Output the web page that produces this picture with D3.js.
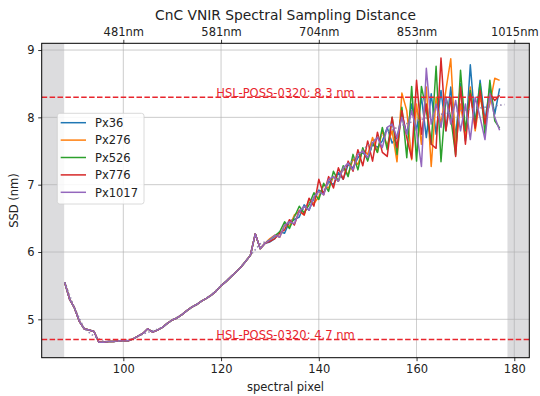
<!DOCTYPE html>
<html><head><meta charset="utf-8">
<script src="https://cdn.jsdelivr.net/npm/d3@7"></script>
<style>
body{margin:0;background:#fff;}
text{font-family:"DejaVu Sans",sans-serif;}
</style></head>
<body><svg id="chart" width="540" height="396"></svg>
<script>
// ---- data ----
const title = "CnC VNIR Spectral Sampling Distance";
const xLabel = "spectral pixel";
const yLabel = "SSD (nm)";
const xTicks = [100, 120, 140, 160, 180];
const topTickLabels = ["481nm", "581nm", "704nm", "853nm", "1015nm"];
const yTicks = [5, 6, 7, 8, 9];
const seriesNames = ["Px36", "Px276", "Px526", "Px776", "Px1017"];
const seriesColors = ["#1f77b4", "#ff7f0e", "#2ca02c", "#d62728", "#9467bd"];
const refLevels = [8.3, 4.7];
const refLabels = ["HSL-POSS-0320: 8.3 nm", "HSL-POSS-0320: 4.7 nm"];
const excludedRanges = [[83.3, 87.9], [178.6, 183.07]];

// spectral pixels 88..177
const pixels = d3.range(88, 178);
// common smooth part, pixels 88..129
const commonPart = [5.55, 5.30, 5.17, 4.97, 4.86, 4.84, 4.82, 4.66, 4.66, 4.67,
  4.67, 4.68, 4.68, 4.68, 4.71, 4.75, 4.79, 4.86, 4.81, 4.84,
  4.88, 4.94, 4.99, 5.02, 5.07, 5.13, 5.18, 5.22, 5.27, 5.31,
  5.36, 5.42, 5.50, 5.56, 5.63, 5.70, 5.77, 5.86, 5.95, 6.27,
  6.05, 6.13];
// per-series noisy part, pixels 130..177
const px36 = [6.15, 6.20, 6.30, 6.28, 6.45, 6.48, 6.52, 6.70, 6.62, 6.80,
  6.92, 6.88, 7.05, 7.00, 7.18, 7.08, 7.30, 7.25, 7.40, 7.48,
  7.38, 7.62, 7.55, 7.65, 7.85, 7.62, 7.70, 8.05, 7.75, 8.20,
  7.80, 8.30, 7.70, 8.35, 7.75, 8.40, 7.80, 8.45, 7.70, 8.50,
  7.65, 8.78, 7.90, 8.55, 7.95, 8.45, 8.05, 8.43];
const px276 = [6.20, 6.25, 6.22, 6.40, 6.38, 6.55, 6.60, 6.55, 6.78, 6.72,
  6.82, 7.00, 6.95, 7.12, 7.05, 7.25, 7.15, 7.38, 7.30, 7.52,
  7.45, 7.70, 7.48, 7.80, 7.58, 7.80, 7.34, 8.36, 8.10, 7.37,
  8.20, 7.60, 8.45, 7.27, 8.30, 7.90, 8.40, 8.87, 7.55, 8.20,
  7.70, 8.45, 7.80, 8.30, 7.95, 8.20, 8.58, 8.55];
const px526 = [6.18, 6.24, 6.30, 6.45, 6.35, 6.52, 6.68, 6.58, 6.70, 6.88,
  6.78, 7.02, 6.90, 7.20, 7.05, 7.28, 7.12, 7.45, 7.22, 7.55,
  7.35, 7.62, 7.48, 7.85, 7.52, 8.00, 7.45, 8.15, 7.40, 8.46,
  7.35, 8.46, 8.10, 7.60, 8.76, 7.34, 8.30, 8.00, 7.44, 8.70,
  7.80, 8.40, 7.90, 8.50, 7.75, 8.55, 7.95, 7.84];
const px776 = [6.16, 6.20, 6.28, 6.33, 6.48, 6.40, 6.62, 6.55, 6.80, 6.68,
  7.08, 6.85, 7.12, 6.95, 7.25, 7.08, 7.35, 7.20, 7.52, 7.28,
  7.65, 7.35, 7.78, 7.48, 7.42, 8.00, 7.55, 8.10, 7.70, 7.39,
  8.55, 7.75, 8.20, 7.60, 7.54, 8.88, 7.80, 8.30, 7.42, 8.45,
  7.60, 8.35, 7.84, 8.40, 7.90, 8.35, 8.25, 8.33];
const px1017 = [6.18, 6.25, 6.22, 6.40, 6.45, 6.42, 6.60, 6.68, 6.62, 6.82,
  6.90, 6.85, 7.08, 7.12, 7.05, 7.25, 7.32, 7.22, 7.45, 7.50,
  7.40, 7.62, 7.70, 7.55, 7.85, 7.90, 7.70, 8.00, 7.75, 8.10,
  7.80, 7.27, 8.73, 7.90, 8.20, 7.85, 8.30, 7.90, 8.25, 7.80,
  8.20, 7.67, 8.30, 8.00, 7.67, 8.35, 8.00, 7.81];
// smoothed fit (dotted)
const fitPixels = [88, 90, 92, 94, 96, 98, 100, 102, 104, 106, 108, 110, 112, 114, 116, 118, 120,
  122, 124, 126, 128, 130, 132, 134, 136, 138, 140, 142, 144, 146, 148, 150, 152, 154, 156,
  158, 160, 162, 164, 166, 168, 170, 172, 174, 176, 178];
const fitValues = [5.55, 5.17, 4.86, 4.75, 4.67, 4.67, 4.68, 4.71, 4.78, 4.83, 4.88, 4.99, 5.07,
  5.18, 5.27, 5.36, 5.50, 5.63, 5.77, 5.95, 6.12, 6.18, 6.27, 6.45, 6.58, 6.72, 6.88, 7.02,
  7.14, 7.28, 7.45, 7.58, 7.70, 7.78, 7.85, 7.91, 7.95, 7.99, 8.03, 8.06, 8.09, 8.11, 8.13,
  8.15, 8.17, 8.19];

const seriesValues = [px36, px276, px526, px776, px1017].map(p => commonPart.concat(p));

// ---- chart ----
const svg = d3.select("#chart");
const L = 41.7, R = 529.3, T = 43.3, B = 357.7;
const x = d3.scaleLinear().domain([83.3, 183.07]).range([L, R]);
const y = d3.scaleLinear().domain([4.43, 9.10]).range([B, T]);
const FS = 11.5;

svg.append("defs").append("clipPath").attr("id", "clip")
  .append("rect").attr("x", L).attr("y", T).attr("width", R - L).attr("height", B - T);

const plot = svg.append("g").attr("clip-path", "url(#clip)");

// excluded spans
plot.selectAll("rect.span").data(excludedRanges).join("rect")
  .attr("class", "span")
  .attr("x", d => x(d[0])).attr("width", d => x(d[1]) - x(d[0]))
  .attr("y", T).attr("height", B - T)
  .attr("fill", "#dcdcde");

// grid
plot.selectAll("line.vg").data(xTicks).join("line")
  .attr("x1", d => x(d)).attr("x2", d => x(d)).attr("y1", T).attr("y2", B)
  .attr("stroke", "#b0b0b0").attr("stroke-width", 0.8).attr("opacity", 0.8);
plot.selectAll("line.hg").data(yTicks).join("line")
  .attr("y1", d => y(d)).attr("y2", d => y(d)).attr("x1", L).attr("x2", R)
  .attr("stroke", "#b0b0b0").attr("stroke-width", 0.8).attr("opacity", 0.8);

// series
const line = d3.line().x((d, i) => x(pixels[i])).y(d => y(d));
seriesValues.forEach((vals, k) => {
  plot.append("path").datum(vals)
    .attr("d", line)
    .attr("fill", "none")
    .attr("stroke", seriesColors[k])
    .attr("stroke-width", 1.5)
    .attr("stroke-linejoin", "round");
});

// fit dotted
const fitLine = d3.line().x((d, i) => x(fitPixels[i])).y(d => y(d));
plot.append("path").datum(fitValues)
  .attr("d", fitLine)
  .attr("fill", "none")
  .attr("stroke", "#8a78a8")
  .attr("stroke-width", 1.6)
  .attr("stroke-dasharray", "1.5,2.5")
  .attr("opacity", 0.9);

// reference lines
refLevels.forEach((lv, i) => {
  plot.append("line")
    .attr("x1", L).attr("x2", R).attr("y1", y(lv)).attr("y2", y(lv))
    .attr("stroke", "#e8252d").attr("stroke-width", 1.5)
    .attr("stroke-dasharray", "5.5,2.4");
  svg.append("text")
    .attr("x", (L + R) / 2).attr("y", y(lv) - 0.5)
    .attr("text-anchor", "middle")
    .attr("font-size", FS)
    .attr("fill", "#e8252d")
    .text(refLabels[i]);
});

// frame
svg.append("rect").attr("x", L).attr("y", T).attr("width", R - L).attr("height", B - T)
  .attr("fill", "none").attr("stroke", "#000").attr("stroke-width", 1);

// axes
const xAxis = svg.append("g").attr("transform", `translate(0,${B})`)
  .call(d3.axisBottom(x).tickValues(xTicks).tickSize(3.5).tickPadding(3.5).tickFormat(d3.format("d")));
const xTop = svg.append("g").attr("transform", `translate(0,${T})`)
  .call(d3.axisTop(x).tickValues(xTicks).tickSize(3.5).tickPadding(3.5).tickFormat((d, i) => topTickLabels[i]));
const yAxis = svg.append("g").attr("transform", `translate(${L},0)`)
  .call(d3.axisLeft(y).tickValues(yTicks).tickSize(3.5).tickPadding(3.5).tickFormat(d3.format("d")));
[xAxis, xTop, yAxis].forEach(g => {
  g.select(".domain").remove();
  g.selectAll("text").attr("font-size", FS).attr("font-family", "DejaVu Sans").attr("fill", "#222");
  g.selectAll("line").attr("stroke", "#000").attr("stroke-width", 0.8);
});

// title and labels
svg.append("text").attr("x", (L + R) / 2).attr("y", 19.5).attr("text-anchor", "middle")
  .attr("font-size", 13.8).attr("fill", "#222").text(title);
svg.append("text").attr("x", (L + R) / 2).attr("y", 391).attr("text-anchor", "middle")
  .attr("font-size", FS).attr("fill", "#222").text(xLabel);
svg.append("text").attr("transform", `translate(18,${(T + B) / 2}) rotate(-90)`)
  .attr("text-anchor", "middle").attr("font-size", FS).attr("fill", "#222").text(yLabel);

// legend
const lg = svg.append("g");
lg.append("rect").attr("x", 57.3).attr("y", 113.3).attr("width", 86.7).attr("height", 90.7)
  .attr("rx", 2.5).attr("fill", "#fff").attr("fill-opacity", 0.85)
  .attr("stroke", "#d0d0d0").attr("stroke-width", 0.8);
seriesNames.forEach((nm, i) => {
  const cy = 122.7 + i * 17.4;
  lg.append("line").attr("x1", 60.7).attr("x2", 86).attr("y1", cy).attr("y2", cy)
    .attr("stroke", seriesColors[i]).attr("stroke-width", 1.5);
  lg.append("text").attr("x", 95).attr("y", cy + 4.2).attr("font-size", FS)
    .attr("fill", "#222").text(nm);
});
</script></body></html>
